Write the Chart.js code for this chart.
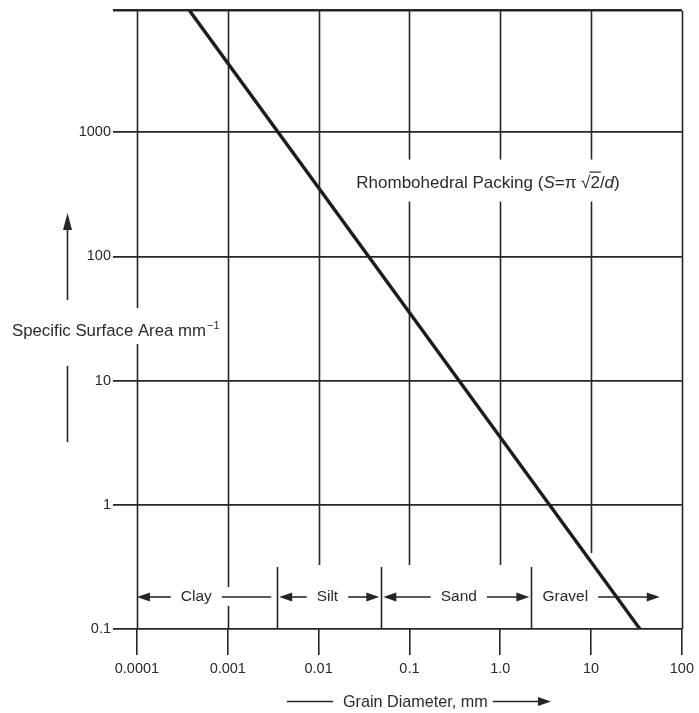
<!DOCTYPE html>
<html>
<head>
<meta charset="utf-8">
<script src="https://cdn.jsdelivr.net/npm/chart.js@4.4.0/dist/chart.umd.min.js"></script>
<style>
  html, body { margin: 0; padding: 0; background: #fff; }
  #wrap { width: 699px; height: 713px; }
</style>
</head>
<body>
<div id="wrap"><canvas id="chart"></canvas></div>
<script>
// values
const grainDiameter = [0.00038, 34.5]; // mm
const surfaceArea = [9500, 0.1]; // mm^-1
const xTicks = [0.0001, 0.001, 0.01, 0.1, 1, 10, 100];
const xTickLabels = ["0.0001", "0.001", "0.01", "0.1", "1.0", "10", "100"];
const yTicks = [0.1, 1, 10, 100, 1000];
const yTickLabels = ["0.1", "1", "10", "100", "1000"];
const classNames = ["Clay", "Silt", "Sand", "Gravel"];
const classEdges = [0.0001, 0.0035, 0.049, 2.2, 60];
const classLabelAt = [0.00045, 0.0125, 0.35, 5.2];
const xMin = 5.45e-5, xMax = 100;
const yMin = 0.1, yMax = 9500;

const FONT = '"Liberation Sans", Arial, Helvetica, sans-serif';
const INK = "#262626";
const TEXT = "#2a2a2a";

function arrowHead(c, x, y, dir) {
  c.beginPath();
  c.moveTo(x, y);
  c.lineTo(x - dir * 13, y - 4.5);
  c.lineTo(x - dir * 13, y + 4.5);
  c.closePath();
  c.fill();
}

// vertical grid, size classes
const gridPlugin = {
  id: "grid",
  beforeDatasetsDraw(chart) {
    const c = chart.ctx;
    const { top, bottom } = chart.chartArea;
    const xs = chart.scales.x;
    const bandTop = bottom - 64;
    const rowY = bottom - 32;
    c.save();
    c.strokeStyle = INK;
    c.fillStyle = INK;
    c.lineWidth = 1.6;

    xTicks.forEach((v, i) => {
      const px = Math.round(xs.getPixelForValue(v)) + 0.5;
      c.beginPath();
      if (i === 0 || i === xTicks.length - 1) {
        c.moveTo(px, top);
        c.lineTo(px, bottom);
      } else if (v === 0.001) {
        c.moveTo(px, top);
        c.lineTo(px, rowY - 10);
        c.moveTo(px, rowY + 9);
        c.lineTo(px, bottom);
      } else {
        c.moveTo(px, top);
        c.lineTo(px, v === 10 ? bandTop - 12 : bandTop);
      }
      c.stroke();
    });

    // class boundaries
    classEdges.slice(1, -1).forEach((v) => {
      const px = Math.round(xs.getPixelForValue(v)) + 0.5;
      c.beginPath();
      c.moveTo(px, bandTop + 2);
      c.lineTo(px, bottom);
      c.stroke();
    });

    // class labels with arrows
    c.font = "15.5px " + FONT;
    c.textAlign = "center";
    c.textBaseline = "middle";
    classNames.forEach((name, i) => {
      const a = xs.getPixelForValue(classEdges[i]) + (i === 0 ? 0 : 2);
      const b = xs.getPixelForValue(classEdges[i + 1]) - 2;
      const mid = xs.getPixelForValue(classLabelAt[i]);
      const w = c.measureText(name).width;
      c.fillStyle = TEXT;
      c.fillText(name, mid, rowY);
      c.fillStyle = INK;
      c.lineWidth = 1.6;
      const gap = 10;
      const leftEnd = mid - w / 2 - gap;
      const rightStart = mid + w / 2 + gap;
      const hasLeft = i < classNames.length - 1;
      const hasRight = i > 0;
      c.beginPath();
      c.moveTo(hasLeft ? a + 6 : rightStart - w - 2 * gap, rowY);
      c.lineTo(leftEnd, rowY);
      c.stroke();
      if (hasLeft) arrowHead(c, a, rowY, -1);
      c.beginPath();
      c.moveTo(rightStart, rowY);
      c.lineTo(hasRight ? b - 6 : b - 4, rowY);
      c.stroke();
      if (hasRight) arrowHead(c, b, rowY, 1);
    });

    // annotation, on a white patch that breaks the grid lines
    let x = xs.getPixelForValue(0.026);
    const y = chart.scales.y.getPixelForValue(400) + 6;
    const up = "17px " + FONT;
    const it = "italic 17px " + FONT;
    const parts = [
      [up, "Rhombohedral Packing ("], [it, "S"], [up, "=π "],
      [up, "√"], [up, "2"], [up, "/"], [it, "d"], [up, ")"],
    ];
    let total = 0;
    parts.forEach(([f, t]) => { c.font = f; total += c.measureText(t).width; });
    c.fillStyle = "#fff";
    c.fillRect(x - 6, y - 28, total + 12, 42);
    c.fillStyle = TEXT;
    c.strokeStyle = TEXT;
    c.textAlign = "left";
    c.textBaseline = "alphabetic";
    parts.forEach(([f, t]) => {
      c.font = f;
      const w = c.measureText(t).width;
      c.fillText(t, x, y);
      if (t === "2") {
        c.beginPath();
        c.lineWidth = 1.2;
        c.moveTo(x - 1, y - 15.5);
        c.lineTo(x + w + 1, y - 15.5);
        c.stroke();
      }
      x += w;
    });
    c.restore();
  },
  afterDraw(chart) {
    const c = chart.ctx;
    c.save();
    c.fillStyle = TEXT;
    c.strokeStyle = INK;
    c.lineWidth = 1.6;
    c.textBaseline = "alphabetic";
    c.textAlign = "left";

    // y title
    c.font = "16.8px " + FONT;
    const t1 = "Specific Surface Area mm";
    const w1 = c.measureText(t1).width;
    c.fillStyle = "#fff";
    c.fillRect(100, 308, 120, 36);
    c.fillStyle = TEXT;
    c.fillText(t1, 12, 336);
    c.font = "11px " + FONT;
    c.fillText("−1", 12 + w1 + 1, 329);
    c.fillStyle = INK;
    c.beginPath();
    c.moveTo(67.5, 300);
    c.lineTo(67.5, 226);
    c.moveTo(67.5, 366);
    c.lineTo(67.5, 442);
    c.stroke();
    c.beginPath();
    c.moveTo(67.5, 213);
    c.lineTo(63, 230);
    c.lineTo(72, 230);
    c.closePath();
    c.fill();

    // x title
    c.font = "16.2px " + FONT;
    c.fillStyle = TEXT;
    c.fillText("Grain Diameter, mm", 343, 707);
    const w2 = c.measureText("Grain Diameter, mm").width;
    c.beginPath();
    c.moveTo(287, 701.5);
    c.lineTo(333, 701.5);
    c.moveTo(343 + w2 + 5, 701.5);
    c.lineTo(538, 701.5);
    c.stroke();
    c.fillStyle = INK;
    arrowHead(c, 551, 701.5, 1);
    c.restore();
  },
};

const ctx = document.getElementById("chart");

new Chart(ctx, {
  type: "line",
  data: {
    datasets: [
      {
        data: grainDiameter.map((d, i) => ({ x: d, y: surfaceArea[i] })),
        borderColor: "#1c1c1c",
        borderWidth: 3.4,
        pointRadius: 0,
        tension: 0,
      },
    ],
  },
  options: {
    responsive: true,
    maintainAspectRatio: false,
    animation: false,
    layout: { padding: { top: 10, right: 16, left: 0, bottom: 0 } },
    plugins: { legend: { display: false }, tooltip: { enabled: false } },
    scales: {
      x: {
        type: "logarithmic",
        min: xMin,
        max: xMax,
        afterBuildTicks: (s) => { s.ticks = xTicks.map((v) => ({ value: v })); },
        afterFit: (s) => { s.height = 84; },
        border: { display: false },
        grid: {
          drawOnChartArea: false,
          drawTicks: true,
          tickLength: 26,
          color: INK,
          lineWidth: 1.6,
        },
        ticks: {
          autoSkip: false,
          maxRotation: 0,
          padding: 5,
          color: TEXT,
          font: { family: FONT, size: 14.5 },
          callback: (v, i) => xTickLabels[i],
        },
      },
      y: {
        type: "logarithmic",
        min: yMin,
        max: yMax,
        afterBuildTicks: (s) => {
          s.ticks = yTicks.concat([yMax]).map((v) => ({ value: v }));
        },
        afterFit: (s) => { s.width = 113; },
        border: { display: false },
        grid: {
          drawTicks: false,
          color: INK,
          lineWidth: (c) => (c.tick && c.tick.value === yMax ? 2.6 : 1.7),
        },
        ticks: {
          padding: 2,
          color: TEXT,
          font: { family: FONT, size: 14.5 },
          callback: (v, i) => (i < yTickLabels.length ? yTickLabels[i] : ""),
        },
      },
    },
  },
  plugins: [gridPlugin],
});
</script>
</body>
</html>
